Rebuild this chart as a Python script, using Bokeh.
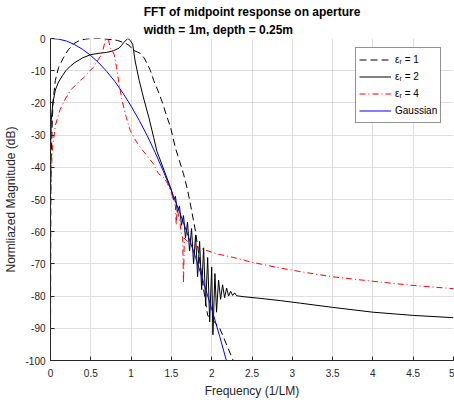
from bokeh.plotting import figure
from bokeh.models import Legend, LegendItem, FixedTicker, CustomJSTickFormatter, Range1d
from bokeh.embed import file_html
from bokeh.resources import INLINE

# ---- data ----
er1_x = [0, 0.005, 0.03, 0.06, 0.1, 0.16, 0.22, 0.29, 0.36, 0.43, 0.5, 0.56, 0.62, 0.7, 0.77,
         0.83, 0.9, 0.97, 1.03, 1.08, 1.12, 1.16, 1.2, 1.24, 1.28, 1.33, 1.39, 1.44, 1.49, 1.55,
         1.6, 1.65, 1.7, 1.74, 1.8, 1.85, 1.9, 1.95, 2.0, 2.05, 2.1, 2.15, 2.2, 2.25, 2.3]
er1_y = [-96, -40, -20, -13, -9, -6, -3.5, -1.6, -0.6, -0.2, 0, 0, 0, -0.2, -0.4,
         -0.6, -1.2, -2, -3.7, -4.2, -4.7, -6, -7.8, -10, -13, -16, -20, -24, -27.6, -34,
         -38, -42, -47, -52, -60, -69, -78, -86, -87, -88.5, -90, -93, -96, -99, -102]

er2_x = [0, 0.01, 0.03, 0.06, 0.1, 0.15, 0.19, 0.25, 0.3, 0.4, 0.5, 0.6, 0.7, 0.78, 0.85,
         0.88, 0.91, 0.96, 0.99, 1.02, 1.05, 1.1, 1.16, 1.22, 1.28, 1.32, 1.41, 1.5,
         1.525, 1.55, 1.575, 1.6, 1.625, 1.65, 1.675, 1.7, 1.725, 1.75, 1.775, 1.8, 1.825,
         1.85, 1.875, 1.9, 1.925, 1.95, 1.975, 2.0, 2.015, 2.04, 2.06, 2.085, 2.11, 2.135,
         2.16, 2.185, 2.21, 2.235, 2.26, 2.285, 2.31, 2.4, 2.6, 2.85, 3.1, 3.5, 4.0, 4.5, 5.0]
er2_y = [-36, -25, -20, -16, -13.5, -11.5, -10, -8.5, -7.5, -6, -5, -4.6, -4.3, -3.8, -3,
         -2.2, -1.2, 0, -0.6, -1.8, -7, -13, -19, -24.5, -30.7, -35, -41, -47,
         -50, -49, -54, -52, -58, -55, -62, -57, -66, -59, -70, -61, -74,
         -63, -78, -65, -83, -68, -88, -71, -92, -73, -85, -75, -81, -76.5,
         -80.5, -77.5, -80, -78.5, -79.8, -79, -79.9, -80.2, -80.7, -81.4, -82.2, -83.5, -85, -86, -86.7]

er4_x = [0, 0.02, 0.06, 0.12, 0.19, 0.25, 0.31, 0.37, 0.42, 0.47, 0.53, 0.58, 0.62, 0.65,
         0.68, 0.7, 0.72, 0.74, 0.77, 0.79, 0.82, 0.85, 0.89, 0.94, 0.99, 1.04, 1.08, 1.12,
         1.2, 1.28, 1.34, 1.4, 1.45, 1.5, 1.53, 1.55, 1.56, 1.57, 1.6, 1.62, 1.64, 1.65,
         1.66, 1.7, 1.78, 1.9, 2.05, 2.27, 2.5, 2.85, 3.1, 3.5, 4.0, 4.5, 5.0]
er4_y = [-51, -35, -27, -22, -18.5, -16, -14.5, -13, -12, -10.5, -9, -7, -5.5, -3.7,
         -0.6, 0, -0.5, -2.8, -4, -5, -9, -14, -19.5, -24.5, -28.6, -31, -32.6, -34,
         -36.5, -39, -42, -43, -45, -48, -50, -52, -58, -53, -56, -60, -62, -76,
         -62, -63, -64.3, -65.5, -66.8, -68, -69.5, -71.3, -72.4, -74, -75.4, -76.7, -77.7]

gauss_x = [0, 0.1, 0.2, 0.3, 0.4, 0.5, 0.6, 0.7, 0.8, 0.9, 1.0, 1.1, 1.2, 1.3, 1.4, 1.5,
           1.6, 1.7, 1.8, 1.9, 2.0, 2.1, 2.2]
gauss_y = [0, -0.2, -0.8, -1.9, -3.4, -5.3, -7.6, -10.3, -13.4, -17.0, -21.0, -25.4, -30.2,
           -35.5, -41.2, -47.3, -53.8, -60.7, -68.0, -75.8, -84.0, -92.6, -101.6]

x_ticks = [0, 0.5, 1, 1.5, 2, 2.5, 3, 3.5, 4, 4.5, 5]
y_ticks = [0, -10, -20, -30, -40, -50, -60, -70, -80, -90, -100]
labels = ["\u03b5\u1d63 = 1", "\u03b5\u1d63 = 2", "\u03b5\u1d63 = 4", "Gaussian"]

FONT = "Liberation Sans"
DARK = "#262626"

p = figure(width=454, height=402, output_backend="svg", toolbar_location=None,
           x_range=Range1d(0, 5), y_range=Range1d(-100, 0),
           min_border_left=50, min_border_right=1, min_border_top=38, min_border_bottom=42,
           title="FFT of midpoint response on aperture\nwidth = 1m, depth = 0.25m")

p.title.align = "center"
p.title.text_font = FONT
p.title.text_font_size = "12px"
p.title.text_font_style = "bold"
p.title.text_color = "#000000"
p.title.standoff = 4
p.title.text_line_height = 1.25

p.outline_line_color = None
p.background_fill_color = "white"
p.border_fill_color = "white"

for ax in (p.xaxis[0], p.yaxis[0]):
    ax.axis_line_color = DARK
    ax.major_tick_line_color = DARK
    ax.major_tick_in = 4
    ax.major_tick_out = 0
    ax.minor_tick_line_color = None
    ax.major_label_text_font = FONT
    ax.major_label_text_font_size = "10px"
    ax.major_label_text_color = DARK
    ax.axis_label_text_font = FONT
    ax.axis_label_text_font_size = "12px"
    ax.axis_label_text_font_style = "normal"
    ax.axis_label_text_color = DARK
    ax.formatter = CustomJSTickFormatter(code="return tick.toString();")

p.xaxis[0].ticker = FixedTicker(ticks=x_ticks)
p.yaxis[0].ticker = FixedTicker(ticks=y_ticks)
p.xaxis[0].axis_label = "Frequency (1/LM)"
p.yaxis[0].axis_label = "Normliazed Magnitude (dB)"
p.xaxis[0].major_label_standoff = 8
p.yaxis[0].major_label_standoff = 5
p.xaxis[0].axis_label_standoff = 4
p.yaxis[0].axis_label_standoff = 4

p.xgrid.ticker = FixedTicker(ticks=x_ticks)
p.ygrid.ticker = FixedTicker(ticks=y_ticks)
p.grid.grid_line_color = "#dfdfdf"
p.grid.grid_line_width = 1

r1 = p.line(er1_x, er1_y, line_color="#000000", line_width=1, line_dash="7 4")
r2 = p.line(er2_x, er2_y, line_color="#000000", line_width=1)
r4 = p.line(er4_x, er4_y, line_color="#ff0000", line_width=1, line_dash="6 3 1 3")
rg = p.line(gauss_x, gauss_y, line_color="#0000ff", line_width=1)

legend = Legend(items=[LegendItem(label=labels[0], renderers=[r1]),
                       LegendItem(label=labels[1], renderers=[r2]),
                       LegendItem(label=labels[2], renderers=[r4]),
                       LegendItem(label=labels[3], renderers=[rg])],
                location=(305, 237))
legend.border_line_color = DARK
legend.border_line_width = 1
legend.background_fill_color = "white"
legend.background_fill_alpha = 1
legend.label_text_font = FONT
legend.label_text_font_size = "10px"
legend.label_text_color = "#000000"
legend.glyph_width = 32
legend.glyph_height = 17
legend.label_height = 17
legend.spacing = 0
legend.padding = 3
legend.margin = 0
legend.label_standoff = 4
p.add_layout(legend)

open("out.html", "w").write(file_html(p, INLINE))
